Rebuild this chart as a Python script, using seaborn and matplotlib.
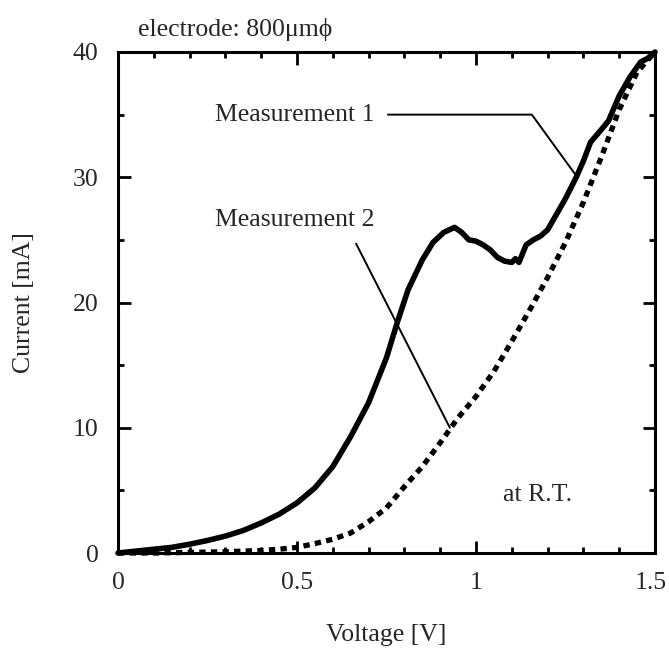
import matplotlib
matplotlib.use("Agg")
import matplotlib.pyplot as plt
import matplotlib.transforms as mtrans
import seaborn as sns
import pandas as pd
from matplotlib.ticker import MultipleLocator

# ---- data ----
m1_v = [0.00, 0.05, 0.10, 0.15, 0.20, 0.25, 0.30, 0.35, 0.40, 0.45, 0.50, 0.55,
        0.60, 0.65, 0.70, 0.75, 0.78, 0.81, 0.85, 0.88, 0.91, 0.94, 0.96, 0.98,
        1.00, 1.02, 1.04, 1.06, 1.08, 1.10, 1.11, 1.12, 1.14, 1.16, 1.18, 1.20,
        1.22, 1.25, 1.28, 1.30, 1.32, 1.35, 1.37, 1.40, 1.43, 1.46, 1.48, 1.50]
m1_i = [0.00, 0.15, 0.30, 0.45, 0.70, 1.00, 1.35, 1.80, 2.40, 3.10, 4.00, 5.20,
        6.90, 9.30, 12.0, 15.6, 18.4, 21.0, 23.4, 24.8, 25.6, 26.0, 25.6, 25.0,
        24.9, 24.6, 24.2, 23.6, 23.3, 23.2, 23.5, 23.2, 24.6, 25.0, 25.3, 25.8,
        26.8, 28.3, 30.0, 31.3, 32.8, 33.8, 34.5, 36.5, 38.0, 39.2, 39.5, 40.0]

m2_v = [0.00, 0.10, 0.20, 0.30, 0.40, 0.45, 0.50, 0.55, 0.60, 0.65, 0.70, 0.75,
        0.80, 0.85, 0.90, 0.95, 1.00, 1.05, 1.10, 1.15, 1.20, 1.25, 1.30, 1.35,
        1.40, 1.45, 1.50]
m2_i = [0.00, 0.00, 0.05, 0.10, 0.20, 0.30, 0.45, 0.75, 1.10, 1.60, 2.50, 3.60,
        5.30, 6.90, 8.80, 10.8, 12.5, 14.5, 16.9, 19.4, 22.0, 24.8, 28.0, 31.6,
        35.4, 38.4, 40.0]

x_ticks = [0, 0.5, 1, 1.5]
x_tick_labels = ["0", "0.5", "1", "1.5"]
y_ticks = [0, 10, 20, 30, 40]
y_tick_labels = ["0", "10", "20", "30", "40"]

label_m1 = "Measurement 1"
label_m2 = "Measurement 2"
leader_m1_v = [0.754, 1.156, 1.283]
leader_m1_i = [35.0, 35.0, 30.0]
leader_m2_v = [0.665, 0.927]
leader_m2_i = [24.7, 10.0]

df1 = pd.DataFrame({"Voltage": m1_v, "Current": m1_i})
df2 = pd.DataFrame({"Voltage": m2_v, "Current": m2_i})

# ---- style ----
sns.set_style("ticks")
plt.rcParams["font.family"] = ["Liberation Serif", "DejaVu Serif"]
FS = 18.5

fig = plt.figure(figsize=(6.69, 6.54), dpi=100)
ax = fig.add_axes([118 / 669, 1 - 553 / 654, (655 - 118) / 669, (553 - 52) / 654])

sns.lineplot(data=df1, x="Voltage", y="Current", ax=ax, color="black",
             lw=4.0, sort=False, solid_joinstyle="round", clip_on=False)
sns.lineplot(data=df2, x="Voltage", y="Current", ax=ax, color="black",
             lw=3.8, sort=False, linestyle=(0, (1.2, 1.0)),
             dash_capstyle="butt", clip_on=False)

# leader lines
ax.plot(leader_m1_v, leader_m1_i, color="black", lw=1.4)
ax.plot(leader_m2_v, leader_m2_i, color="black", lw=1.4)
ax.text(0.717, 35.0, label_m1, ha="right", va="center", fontsize=FS)
ax.text(0.717, 26.6, label_m2, ha="right", va="center", fontsize=FS)
ax.text(1.075, 4.6, "at R.T.", ha="left", va="center", fontsize=FS)
ax.text(0.056, 41.8, "electrode: 800μmϕ", ha="left", va="center",
        fontsize=FS, clip_on=False)

ax.set_xlim(0, 1.5)
ax.set_ylim(0, 40)
ax.set_xticks(x_ticks)
ax.set_xticklabels(x_tick_labels)
ax.set_yticks(y_ticks)
ax.set_yticklabels(y_tick_labels)
ax.xaxis.set_minor_locator(MultipleLocator(0.1))
ax.yaxis.set_minor_locator(MultipleLocator(5))
ax.tick_params(which="both", direction="in", top=True, right=True,
               width=2.0, labelsize=FS, pad=14, color="black")
ax.tick_params(which="major", length=9)
ax.tick_params(which="minor", length=4.5)
for s in ax.spines.values():
    s.set_linewidth(2.2)
    s.set_color("black")
    s.set_visible(True)

# keep the last x tick label inside the canvas
last = ax.get_xticklabels()[-1]
last.set_transform(last.get_transform() +
                   mtrans.ScaledTranslation(-4 / 100, 0, fig.dpi_scale_trans))

ax.set_xlabel("Voltage [V]", fontsize=FS, labelpad=21)
ax.set_ylabel("Current [mA]", fontsize=FS, labelpad=27)

fig.savefig("out.png", dpi=100)
